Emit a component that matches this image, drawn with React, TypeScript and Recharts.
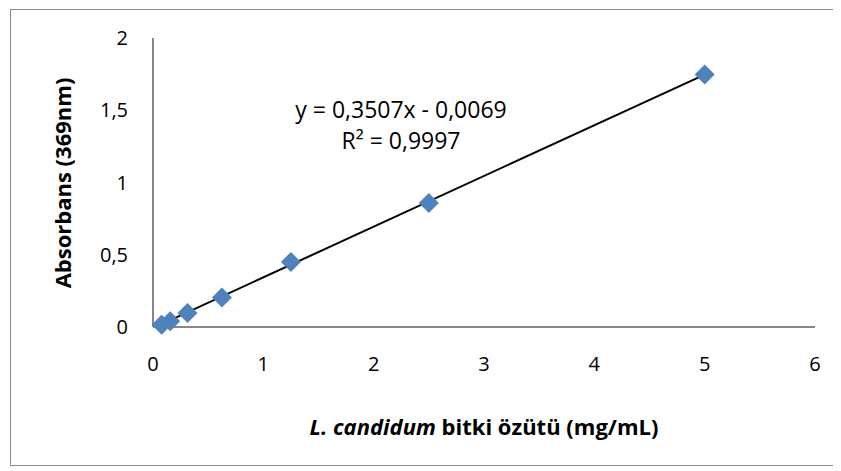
import { ScatterChart, Scatter, XAxis, YAxis } from "recharts"

// concentration (mg/mL) and absorbance at 369 nm
const concentrations = [0.078, 0.156, 0.3125, 0.625, 1.25, 2.5, 5]
const absorbances = [0.015, 0.04, 0.097, 0.205, 0.45, 0.858, 1.748]

// linear trendline endpoints as drawn
const trendX = [0.078, 5]
const trendY = [0.02, 1.747]

const xTicks = [0, 1, 2, 3, 4, 5, 6]
const yTicks = [0, 0.5, 1, 1.5, 2]

const points = concentrations.map((x, i) => ({ x, y: absorbances[i] }))
const trend = trendX.map((x, i) => ({ x, y: trendY[i] }))

const font = "'Open Sans', sans-serif"
const fmt = (v: number) => String(v).replace(".", ",")

const Diamond = (props: any) => {
  const { cx, cy } = props
  const r = 10
  return (
    <polygon
      points={`${cx},${cy - r} ${cx + r},${cy} ${cx},${cy + r} ${cx - r},${cy}`}
      fill="#4F81BD"
    />
  )
}

export default function App() {
  return (
    <div
      style={{
        position: "relative",
        width: 826,
        height: 457,
        marginLeft: 2,
        marginTop: 1,
        border: "1px solid #8c8c8c",
        boxSizing: "border-box",
        background: "#fff",
        fontFamily: font,
      }}
    >
      <ScatterChart
        width={824}
        height={455}
        margin={{ top: 28, right: 20, bottom: 88, left: 82 }}
      >
        <XAxis
          type="number"
          dataKey="x"
          domain={[0, 6]}
          ticks={xTicks}
          tickLine={false}
          tickSize={0}
          tickMargin={30}
          axisLine={{ stroke: "#868686", strokeWidth: 2 }}
          tick={{ fill: "#000", fontSize: 20, fontFamily: font }}
          height={50}
        />
        <YAxis
          type="number"
          dataKey="y"
          domain={[0, 2]}
          ticks={yTicks}
          tickFormatter={fmt}
          tickLine={false}
          tickSize={0}
          tickMargin={25}
          axisLine={{ stroke: "#868686", strokeWidth: 2 }}
          tick={{ fill: "#000", fontSize: 20, fontFamily: font }}
          width={60}
        />
        <Scatter
          data={trend}
          line={{ stroke: "#000", strokeWidth: 2 }}
          shape={() => null}
          isAnimationActive={false}
        />
        <Scatter data={points} shape={<Diamond />} isAnimationActive={false} />
      </ScatterChart>
      <div
        style={{
          position: "absolute",
          left: 51,
          top: 173,
          transform: "translate(-50%, -50%) rotate(-90deg)",
          whiteSpace: "nowrap",
          fontWeight: "bold",
          fontSize: 22,
        }}
      >
        Absorbans (369nm)
      </div>
      <div
        style={{
          position: "absolute",
          left: 473,
          top: 416,
          transform: "translate(-50%, -50%)",
          whiteSpace: "nowrap",
          fontWeight: "bold",
          fontSize: 22,
        }}
      >
        <i>L. candidum</i> bitki özütü (mg/mL)
      </div>
      <div
        style={{
          position: "absolute",
          left: 390,
          top: 115,
          transform: "translate(-50%, -50%)",
          whiteSpace: "nowrap",
          fontSize: 23,
          lineHeight: "31px",
          textAlign: "center",
        }}
      >
        y = 0,3507x - 0,0069
        <br />
        R² = 0,9997
      </div>
    </div>
  )
}
